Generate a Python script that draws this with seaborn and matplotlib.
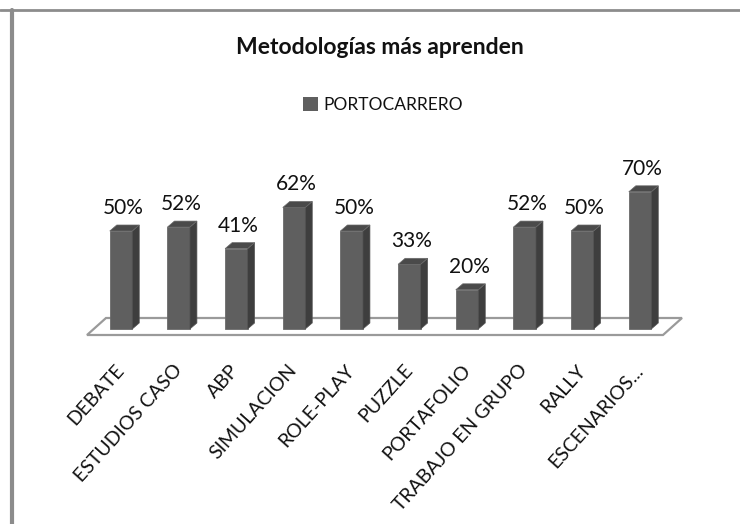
import matplotlib
matplotlib.use("Agg")
import matplotlib.pyplot as plt
from matplotlib.patches import Polygon, Patch
from matplotlib.lines import Line2D
import seaborn as sns

categories = ["DEBATE", "ESTUDIOS CASO", "ABP", "SIMULACION", "ROLE-PLAY",
              "PUZZLE", "PORTAFOLIO", "TRABAJO EN GRUPO", "RALLY", "ESCENARIOS..."]
values = [0.50, 0.52, 0.41, 0.62, 0.50, 0.33, 0.20, 0.52, 0.50, 0.70]
value_labels = ["50%", "52%", "41%", "62%", "50%", "33%", "20%", "52%", "50%", "70%"]
series_name = "PORTOCARRERO"
title = "Metodologías más aprenden"

sns.set_theme(style="white")
plt.rcParams['font.family'] = ['Lato', 'DejaVu Sans']

FRONT = "#5f5f5f"
SIDE = "#3e3e3e"
TOP = "#4a4a4a"
TXT = "#111111"

W, H = 740, 524
fig = plt.figure(figsize=(W / 100, H / 100), dpi=100)

# axes geometry (pixels): 1.0 value == 196 px, bar spacing 57.67 px
ppu_y = 196.0
ppu_x = 57.67
base_px = 329.0          # baseline from top
x0_px = 121.0            # first bar centre
ax_left_px, ax_right_px = 70.0, 700.0
ylo, yhi = -0.06, 0.85
ax_h = (yhi - ylo) * ppu_y
ax_bottom = (H - base_px) + ylo * ppu_y
ax = fig.add_axes([ax_left_px / W, ax_bottom / H, (ax_right_px - ax_left_px) / W, ax_h / H])
ax.set_facecolor("none")

sns.barplot(x=categories, y=values, color=FRONT, saturation=1, width=0.39, ax=ax,
            edgecolor="#6a6a6a", linewidth=0.6, zorder=3)
bars = list(ax.patches)

ax.set_xlim(-(x0_px - ax_left_px) / ppu_x, 9 + (ax_right_px - (x0_px + 9 * ppu_x)) / ppu_x)
ax.set_ylim(ylo, yhi)

# depth offsets in data units
dx = 7.0 / ppu_x
dy = 6.0 / ppu_y

# floor
fdx = 19.0 / ppu_x
fdy = 17.0 / ppu_y
fl_left = -(121 - 87) / ppu_x
fl_right = (663 - 121) / ppu_x
fl_front = -6.0 / ppu_y
floor = Polygon([(fl_left, fl_front), (fl_right, fl_front),
                 (fl_right + fdx, fl_front + fdy), (fl_left + fdx, fl_front + fdy)],
                closed=True, facecolor="white", edgecolor="#9a9a9a", linewidth=1.6,
                zorder=1, clip_on=False)
ax.add_patch(floor)

for p, lab in zip(bars, value_labels):
    x = p.get_x()
    w = p.get_width()
    h = p.get_height()
    side = Polygon([(x + w, 0), (x + w + dx, dy), (x + w + dx, h + dy), (x + w, h)],
                   closed=True, facecolor=SIDE, edgecolor="#555555", linewidth=0.5, zorder=3)
    top = Polygon([(x, h), (x + w, h), (x + w + dx, h + dy), (x + dx, h + dy)],
                  closed=True, facecolor=TOP, edgecolor="#6a6a6a", linewidth=0.5, zorder=3)
    ax.add_patch(side)
    ax.add_patch(top)
    ax.text(x + w / 2 + dx / 3, h + 17.0 / ppu_y, lab, ha="center", va="baseline",
            fontsize=15, color=TXT, zorder=4)

for s in ax.spines.values():
    s.set_visible(False)
ax.set_yticks([])
ax.set_ylabel("")
ax.set_xlabel("")
ax.tick_params(axis="x", length=0, pad=19)
ax.set_xticks(range(len(categories)))
ax.set_xticklabels(categories, rotation=48, ha="right", va="center",
                   rotation_mode="anchor", fontsize=14, color=TXT)

# title and legend
fig.text(380 / W, 1 - 47 / H, title, ha="center", va="center", fontsize=16.5,
         fontweight="bold", color=TXT)
leg = fig.legend(handles=[Patch(facecolor=FRONT, edgecolor="none", label=series_name)],
                 loc="center", bbox_to_anchor=(383 / W, 1 - 105 / H), frameon=False,
                 handlelength=0.85, handleheight=0.85, handletextpad=0.3,
                 prop={"size": 12.5})
for t in leg.get_texts():
    t.set_color(TXT)

# outer frame lines
fig.add_artist(Line2D([0, 1], [1 - 10 / H, 1 - 10 / H], transform=fig.transFigure,
                      color="#8c8c8c", linewidth=2.0))
fig.add_artist(Line2D([12 / W, 12 / W], [0, 1 - 10 / H], transform=fig.transFigure,
                      color="#8c8c8c", linewidth=3.0))

fig.savefig("out.png", dpi=100)
